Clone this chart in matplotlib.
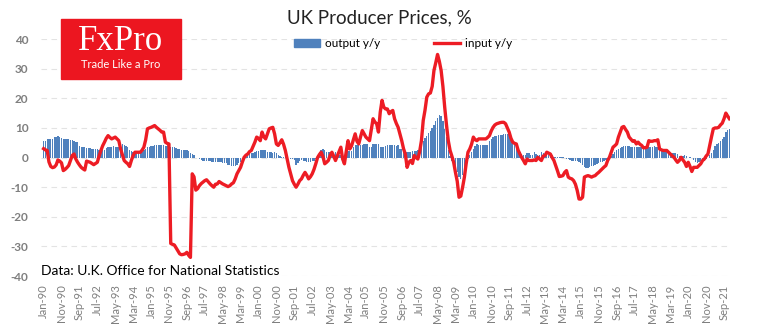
import matplotlib
matplotlib.use("Agg")
import matplotlib.pyplot as plt
import matplotlib.patches as mpatches
import numpy as np
import pandas as pd

# monthly series, Jan-90 .. Dec-21 (one row per year)
output_yy = [
    5.5, 5.6, 6.1, 6.1, 6.2, 6.3, 7.0, 7.1, 7.2, 7.0, 6.6, 6.3,
    6.2, 6.1, 6.1, 6.0, 5.9, 5.6, 5.3, 5.2, 4.0, 3.6, 3.5, 3.4,
    3.3, 3.2, 3.1, 3.0, 2.9, 2.9, 2.8, 2.6, 2.5, 2.4, 2.6, 3.2,
    3.5, 3.6, 3.7, 3.8, 3.6, 3.5, 3.7, 4.4, 4.6, 4.1, 3.8, 3.7,
    2.6, 2.3, 1.9, 1.8, 1.8, 1.8, 1.9, 2.0, 2.5, 3.0, 3.5, 3.6,
    3.8, 4.0, 4.1, 4.1, 4.1, 4.1, 4.2, 4.1, 4.0, 3.8, 3.7, 3.6,
    3.5, 3.4, 3.2, 3.0, 2.8, 2.6, 2.5, 2.5, 2.4, 2.3, 1.5, 1.2,
    0.8, -0.2, -0.3, -0.5, -0.9, -1.0, -1.0, -1.1, -1.1, -1.2, -1.4, -1.5,
    -1.5, -1.6, -1.6, -1.6, -1.7, -1.8, -2.0, -2.4, -2.6, -2.7, -2.8, -2.7,
    -2.6, -1.8, -1.6, -1.2, -0.3, 0.2, 1.0, 1.4, 1.6, 1.7, 1.9, 2.1,
    2.2, 2.4, 2.6, 2.6, 2.5, 2.0, 1.8, 1.8, 1.7, 1.9, 1.4, 0.7,
    0.4, 0.3, 0.1, 0.1, 0.0, -0.1, -0.5, -0.5, -0.8, -2.4, -2.0, -1.0,
    -0.9, -1.0, -1.3, -1.6, -1.6, -1.4, -1.2, -1.0, -0.5, 0.7, 1.8, 2.5,
    2.9, 2.5, 1.8, 1.8, 1.8, 1.8, 1.7, 1.8, 1.8, 1.0, 1.0, 1.0,
    1.0, 1.5, 2.1, 2.1, 2.2, 3.5, 4.1, 4.1, 4.1, 4.1, 4.3, 4.6,
    4.6, 4.5, 3.7, 3.7, 4.6, 4.6, 4.6, 4.6, 3.7, 3.7, 3.7, 3.8,
    4.1, 4.1, 4.1, 4.2, 4.1, 4.0, 4.1, 2.9, 2.9, 2.1, 2.1, 2.0,
    2.0, 2.0, 2.1, 2.2, 2.3, 2.4, 3.7, 4.5, 5.7, 6.5, 7.4, 8.2,
    9.1, 10.0, 11.0, 12.5, 13.5, 14.2, 14.0, 12.5, 9.5, 6.9, 2.4, 0.5,
    -1.0, -1.6, -3.0, -5.0, -6.5, -7.2, -6.0, -4.4, -2.5, -0.5, 1.0, 2.0,
    3.0, 4.0, 4.5, 4.4, 4.3, 4.3, 4.2, 4.3, 4.4, 5.5, 6.3, 6.8,
    7.4, 7.4, 7.5, 7.6, 7.6, 8.0, 8.0, 8.0, 8.0, 6.9, 5.5, 4.1,
    3.0, 2.4, 2.0, 1.2, 0.7, 0.7, 1.5, 1.5, 1.0, 0.7, 1.8, 1.2,
    0.7, 1.0, 1.8, 1.5, 0.7, 0.7, 1.0, 1.0, 0.8, 0.3, 0.2, 0.2,
    0.2, 0.2, 0.2, -0.3, -0.5, -0.5, -0.8, -1.0, -1.2, -1.2, -1.3, -1.5,
    -1.8, -2.5, -3.2, -3.5, -3.5, -3.2, -2.9, -2.7, -2.5, -2.2, -1.9, -1.6,
    -1.4, -1.2, -0.8, -0.5, -0.2, 0.5, 1.2, 1.8, 2.4, 2.9, 3.3, 3.7,
    3.9, 4.0, 4.0, 3.9, 3.7, 3.5, 3.4, 3.4, 3.4, 3.5, 3.6, 3.6,
    3.7, 3.7, 3.6, 3.7, 3.7, 3.8, 3.7, 3.7, 3.0, 2.8, 2.5, 2.4,
    2.0, 1.9, 1.7, 1.6, 1.5, 1.4, 1.2, 0.5, 0.1, 0.5, 0.7, 0.5,
    0.0, 0.2, -0.3, -0.7, -1.6, -1.9, -1.6, -1.2, -1.0, -1.0, -0.6, -0.3,
    1.0, 1.4, 2.4, 4.0, 4.6, 5.0, 5.7, 6.4, 7.1, 8.6, 9.4, 9.7,
]

input_yy = [
    3.0, 2.6, 2.4, -1.5, -3.0, -3.4, -3.2, -2.5, -0.8, -1.2, -1.8, -4.4,
    -4.0, -3.4, -2.7, -1.0, 0.7, 1.2, -0.5, -1.6, -2.5, -3.3, -3.8, -4.2,
    -1.2, -1.4, -1.6, -2.0, -2.4, -2.0, -1.6, 0.5, 2.4, 4.0, 5.2, 6.5,
    7.4, 6.8, 6.3, 6.6, 6.9, 6.3, 5.7, 2.9, 1.0, -1.0, -1.6, -2.1,
    -3.0, -1.0, 0.7, 1.8, 1.8, 1.8, 1.8, 2.5, 3.5, 6.0, 9.7, 10.0,
    10.2, 10.5, 10.8, 10.2, 9.7, 9.2, 8.6, 8.6, 5.2, 4.8, 4.6, -29.0,
    -29.3, -29.5, -30.5, -31.5, -32.5, -32.8, -32.7, -32.5, -32.0, -33.0, -33.7, -5.5,
    -6.5, -11.0, -10.5, -9.5, -8.8, -8.3, -7.8, -7.5, -8.2, -8.9, -9.5, -10.0,
    -9.0, -8.9, -8.1, -8.5, -8.9, -9.2, -9.5, -9.8, -9.5, -8.9, -8.5, -7.2,
    -5.5, -4.4, -3.3, -1.5, 0.1, 0.8, 1.2, 2.0, 2.4, 3.8, 5.2, 6.9,
    6.5, 5.7, 8.6, 7.0, 6.3, 8.0, 9.7, 10.0, 10.2, 8.0, 4.6, 4.1,
    5.0, 6.0, 4.5, 2.4, -0.5, -3.3, -5.5, -7.8, -9.0, -10.0, -9.0, -7.8,
    -7.2, -6.0, -5.0, -6.0, -7.2, -6.5, -5.5, -4.0, -2.1, 0.0, 1.0, 1.8,
    0.3, -2.1, -1.6, -1.0, 0.7, 1.8, 0.5, -1.0, 0.5, 2.0, 3.5, -0.5,
    -2.1, 2.0, 5.7, 2.9, 4.0, 6.0, 8.0, 5.5, 4.6, 7.0, 9.1, 8.0,
    6.9, 6.3, 5.7, 9.5, 13.1, 12.0, 11.4, 8.6, 15.3, 19.3, 17.0, 16.4,
    16.4, 14.8, 15.5, 15.9, 13.1, 11.5, 10.2, 8.0, 5.7, 3.0, 1.2, -3.3,
    -1.6, -1.0, -2.0, 0.7, 0.0, -0.5, 2.0, 5.7, 12.5, 16.0, 20.4, 21.5,
    21.8, 24.0, 29.4, 32.0, 34.8, 32.5, 29.4, 24.0, 17.0, 11.0, 5.7, 2.4,
    0.5, -1.6, -5.0, -8.0, -13.4, -13.0, -10.0, -6.6, -2.0, 1.8, 2.9, 4.5,
    6.9, 6.0, 5.7, 6.3, 6.3, 6.3, 6.3, 6.3, 6.8, 7.4, 9.0, 10.2,
    11.0, 11.4, 11.6, 11.8, 11.9, 11.9, 11.4, 10.0, 8.6, 6.5, 5.2, 4.8,
    4.6, 2.5, 1.2, 0.0, -1.0, -2.1, -0.5, -1.0, -1.0, -1.0, -0.8, -1.0,
    0.1, -0.5, -1.0, 0.5, 0.7, 1.8, 1.5, 1.2, 0.0, -1.0, -2.7, -4.5,
    -6.4, -6.3, -6.1, -5.0, -4.4, -6.6, -7.0, -7.2, -7.8, -9.0, -11.1, -14.0,
    -14.0, -13.4, -6.6, -6.3, -6.1, -6.3, -6.6, -6.3, -6.1, -5.5, -5.0, -4.4,
    -3.8, -3.2, -2.7, -1.0, 0.1, 1.8, 3.5, 4.0, 4.6, 6.9, 8.6, 10.2,
    10.5, 9.5, 8.6, 6.9, 6.2, 5.5, 5.7, 4.6, 5.2, 4.5, 4.1, 3.3,
    3.3, 3.5, 5.7, 5.5, 5.5, 5.7, 5.7, 6.0, 2.9, 2.6, 2.4, 2.4,
    2.4, 1.8, 1.2, 0.6, 0.1, -0.8, -1.6, -1.0, 0.1, -0.8, -1.6, -3.0,
    -1.6, -3.0, -4.7, -3.3, -3.3, -3.3, -2.7, -2.1, -1.0, -0.5, 0.5, 1.2,
    4.1, 7.0, 9.7, 10.0, 10.0, 10.2, 11.0, 11.6, 13.1, 15.0, 14.0, 13.1,
]

months = pd.date_range("1990-01-01", periods=len(output_yy), freq="MS")
month_labels = [d.strftime("%b-%y") for d in months]
y_ticks = [-40, -30, -20, -10, 0, 10, 20, 30, 40]

plt.rcParams['font.family'] = ['Lato', 'DejaVu Sans']

fig = plt.figure(figsize=(7.72, 3.31), dpi=100)
ax = fig.add_axes([0.053, 0.166, 0.893, 0.716])

x = np.arange(len(output_yy))
ax.bar(x, output_yy, width=0.75, color='#4f81bd', zorder=2)
ax.plot(x, input_yy, color='#ed1c24', linewidth=2.4, zorder=3, solid_joinstyle='round')

ax.set_xlim(-1.5, len(x) - 0.5)
ax.set_ylim(-40, 40)
ax.set_yticks(y_ticks)
ax.set_yticklabels([str(v) for v in y_ticks], color='#7f7f7f', fontsize=8.5, fontweight='bold')
ax.set_xticks(x[::10])
ax.set_xticklabels(month_labels[::10], rotation=90, color='#7f7f7f', fontsize=8)
ax.tick_params(axis='both', length=0)
ax.tick_params(axis='y', pad=9)
ax.tick_params(axis='x', pad=6)
for s in ax.spines.values():
    s.set_visible(False)
ax.yaxis.grid(True, color='#e3e3e3', linestyle=(0, (5, 4)), linewidth=0.8, zorder=0)
ax.set_axisbelow(True)

fig.text(0.491, 0.945, "UK Producer Prices, %", ha='center', va='center', fontsize=13.5, color='#222222')

# legend
handles = [mpatches.Patch(color='#4f81bd'),
           plt.Line2D([], [], color='#ed1c24', linewidth=2.4)]
fig.legend(handles, ["output y/y", "input y/y"], loc='center', bbox_to_anchor=(0.522, 0.868),
           ncol=2, frameon=False, fontsize=8.5, handlelength=2.2, handletextpad=0.4,
           columnspacing=4.6)

# logo
fig.patches.append(mpatches.Rectangle((61 / 772, 1 - 79 / 331), 120 / 772, 60 / 331,
                                      transform=fig.transFigure, color='#ec1620', zorder=5))
fig.text(121 / 772, 1 - 42 / 331, "FxPro", ha='center', va='center', color='white',
         fontsize=25, family='Liberation Serif', zorder=6)
fig.text(121 / 772, 1 - 64 / 331, "Trade Like a Pro", ha='center', va='center', color='white',
         fontsize=8, zorder=6)

fig.text(41 / 772, 1 - 271 / 331, "Data: U.K. Office for National Statistics", ha='left', va='center',
         fontsize=10, color='black')

plt.savefig('out.png', dpi=100)
